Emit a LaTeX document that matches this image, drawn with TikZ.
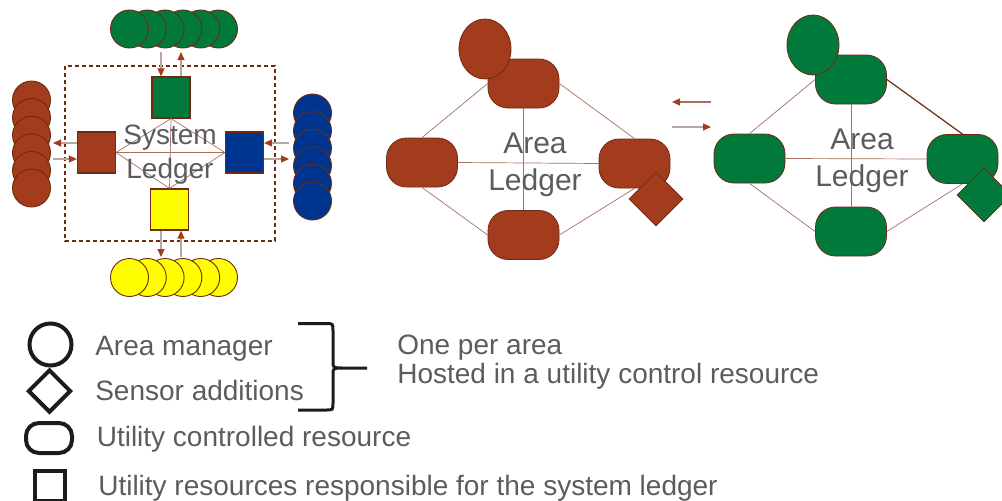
\documentclass[tikz,border=0pt]{standalone}
\usepackage{fontspec}
\setmainfont{Liberation Sans}
\usetikzlibrary{arrows.meta,shapes.geometric}

\definecolor{rust}{HTML}{A23C1D}
\definecolor{leaf}{HTML}{00793A}
\definecolor{navy}{HTML}{00358F}
\definecolor{lemon}{HTML}{FFFF00}
\definecolor{rim}{HTML}{6E2A14}
\definecolor{wire}{HTML}{A86E5E}
\definecolor{shaft}{HTML}{B9A7A2}
\definecolor{label}{HTML}{5C5C60}
\definecolor{ink}{HTML}{1C1C1C}

\begin{document}
\begin{tikzpicture}[x=1pt,y=-1pt,>={Triangle[length=8pt,width=7pt,color=rust]},
                    semithick]
  \tikzstyle{manager}=[circle,draw=rim,line width=0.9pt,minimum size=38pt,inner sep=0pt]
  \tikzstyle{ledger}=[rectangle,draw=rim,line width=1.2pt,minimum width=38pt,minimum height=41pt,inner sep=0pt]
  \tikzstyle{resource}=[rectangle,rounded corners=20pt,draw=rim,line width=0.8pt,minimum width=71pt,minimum height=49pt,inner sep=0pt]
  \tikzstyle{head}=[ellipse,draw=rim,line width=0.8pt,minimum width=52pt,minimum height=60pt,inner sep=0pt]
  \tikzstyle{sensor}=[diamond,draw=rim,line width=0.8pt,minimum size=54pt,inner sep=0pt]
  \tikzstyle{link}=[draw=wire,line width=0.7pt]
  \tikzstyle{flow}=[->,draw=shaft,line width=1.2pt]
  \tikzstyle{title}=[text=label,align=center,inner sep=0pt,font=\fontsize{28}{34}\selectfont]
  \tikzstyle{key}=[draw=ink,line width=4pt,inner sep=0pt]
  \tikzstyle{note}=[text=label,anchor=base west,inner sep=0pt,font=\fontsize{28}{34}\selectfont]

  \useasboundingbox (0,0) rectangle (1002,501);

  % system ledger
  \draw[rim,line width=1.3pt,dash pattern=on 4pt off 3pt] (65,66) rectangle (275,241);
  \foreach \i in {5,4,...,0} {
    \node[manager,fill=leaf]  (g\i) at (129.5+17.8*\i,29) {};
    \node[manager,fill=lemon] (y\i) at (129.5+17.8*\i,277.5) {};
  }
  \foreach \i in {0,...,5} {
    \node[manager,fill=rust]  (r\i) at (31.5,100+17.6*\i) {};
    \node[manager,fill=navy]  (b\i) at (312.5,113+17.6*\i) {};
  }

  \node[ledger,fill=leaf]  (G) at (171,97.5)    {};
  \node[ledger,fill=rust]  (R) at (96.5,152.5)  {};
  \node[ledger,fill=navy]  (B) at (244.5,152.5) {};
  \node[ledger,fill=lemon] (Y) at (169.5,209.5) {};

  \path (G.south) edge[link] (R.east)
                  edge[link] (B.west)
                  edge[link] (Y.north)
        (R.east)  edge[link] (B.west)
                  edge[link] (Y.north)
        (B.west)  edge[link] (Y.north);

  \node[title] (SL) at (170,155) {System\\Ledger};

  \coordinate (gin)  at (161,52);
  \coordinate (gout) at (181,52);
  \coordinate (rout) at (53,143);
  \coordinate (rin)  at (53,159);
  \coordinate (bin)  at (289,143);
  \coordinate (bout) at (289,159);
  \coordinate (yout) at (161,257);
  \coordinate (yin)  at (181,257);
  \draw[flow] (gin) -- (G.north -| gin);
  \draw[flow] (G.north -| gout) -- (gout);
  \draw[flow] (R.west |- rout) -- (rout);
  \draw[flow] (rin) -- (R.west |- rin);
  \draw[flow] (bin) -- (B.east |- bin);
  \draw[flow] (B.east |- bout) -- (bout);
  \draw[flow] (Y.south -| yout) -- (yout);
  \draw[flow] (yin) -- (Y.south -| yin);

  % area ledger, brown
  \node[resource,fill=rust] (T1) at (523.5,83.5) {};
  \node[resource,fill=rust] (L1) at (422,162.5)  {};
  \node[resource,fill=rust] (E1) at (634.5,163.5) {};
  \node[resource,fill=rust] (D1) at (523.5,235)  {};
  \path (L1.north) edge[link] (T1.west)
        (T1.east)  edge[link] (E1.north)
        (L1.south) edge[link] (D1.west)
        (D1.east)  edge[link] (E1.south)
        (L1.east)  edge[link] (E1.west)
        (T1.south) edge[link] (D1.north);
  \node[head,fill=rust]   (M1) at (485,49) {};
  \node[sensor,fill=rust] (S1) at (656,199) {};
  \node[title,font=\fontsize{30}{37}\selectfont] (AL1) at (535,164.5) {Area\\Ledger};

  \coordinate (p1) at (711,102);
  \coordinate (p2) at (672,102);
  \coordinate (q1) at (672,127);
  \coordinate (q2) at (711,127);
  \draw[flow,draw=wire] (p1) -- (p2);
  \draw[flow] (q1) -- (q2);

  % area ledger, green
  \node[resource,fill=leaf] (T2) at (851,79.5)  {};
  \node[resource,fill=leaf] (L2) at (749.5,158.5) {};
  \node[resource,fill=leaf] (E2) at (962.5,159) {};
  \node[resource,fill=leaf] (D2) at (851,231.5) {};
  \path (L2.north) edge[link] (T2.west)
        (T2.east)  edge[link,draw=rim,line width=1.2pt] (E2.north)
        (L2.south) edge[link] (D2.west)
        (D2.east)  edge[link] (E2.south)
        (L2.east)  edge[link] (E2.west)
        (T2.south) edge[link] (D2.north);
  \node[head,fill=leaf]   (M2) at (813,45) {};
  \node[sensor,fill=leaf] (S2) at (984,195) {};
  \node[title,font=\fontsize{30}{37}\selectfont] (AL2) at (862,160.5) {Area\\Ledger};

  % legend
  \node[key,circle,minimum size=42pt] (K1) at (50.5,344.5) {};
  \node[key,diamond,minimum size=43pt] (K2) at (49.5,391) {};
  \node[key,rectangle,rounded corners=13pt,minimum width=46pt,minimum height=30pt] (K3) at (49,438) {};
  \node[key,rectangle,minimum size=30pt] (K4) at (50,486) {};

  \node[note] (N1) at (95,355)    {Area manager};
  \node[note] (N2) at (95,400.5)  {Sensor additions};
  \node[note] (N3) at (96.5,446.5) {Utility controlled resource};
  \node[note] (N4) at (98,495)    {Utility resources responsible for the system ledger};
  \node[note] (N5) at (397,354.5) {One per area};
  \node[note] (N6) at (397,383.5) {Hosted in a utility control resource};

  \draw[ink,line width=3pt] (298,323.5) -- (326,323.5) .. controls (333,323.5) .. (333,331)
        -- (333,361) .. controls (333,368) .. (343,368) -- (367,368)
        (343,368) .. controls (333,368) .. (333,375) -- (333,403)
        .. controls (333,410) .. (326,410) -- (298,410);
\end{tikzpicture}
\end{document}
